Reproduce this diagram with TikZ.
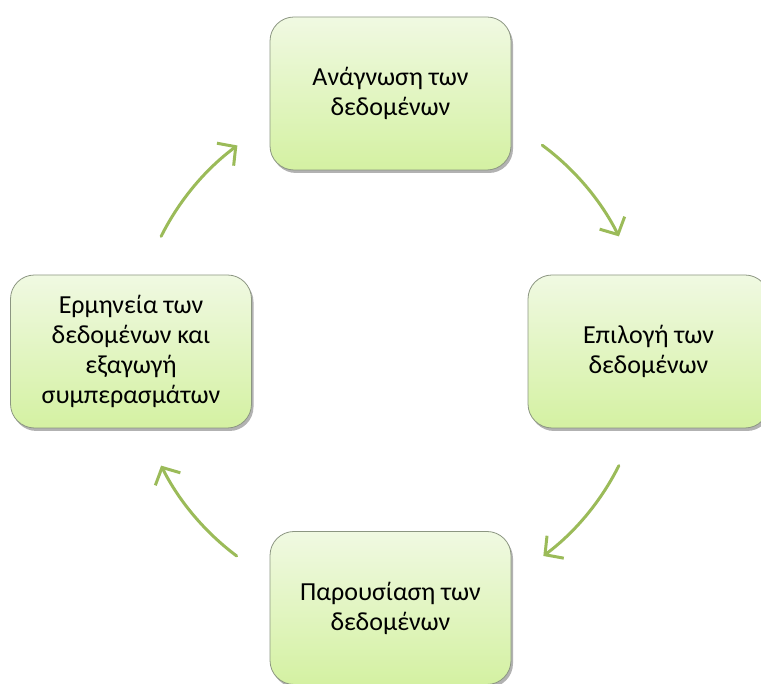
\documentclass[tikz,border=0pt]{standalone}
\usepackage{fontspec}
\setmainfont{Carlito}
\usetikzlibrary{arrows.meta,shadows,calc}
\definecolor{boxtop}{RGB}{240,249,226}
\definecolor{boxbot}{RGB}{212,241,162}
\definecolor{boxline}{RGB}{140,150,130}
\definecolor{arrowgreen}{RGB}{155,187,89}
\tikzset{
  stepbox/.style={draw=boxline, line width=0.8pt, rounded corners=24pt,
    top color=boxtop, bottom color=boxbot,
    minimum width=241pt, minimum height=153pt, align=center,
    font=\fontsize{26}{30}\selectfont, text=black, inner sep=0pt,
    drop shadow={shadow xshift=2pt, shadow yshift=-3pt, opacity=0.3, fill=black}},
  cyclearrow/.style={draw=arrowgreen, line width=3pt, line cap=round,
    -{Straight Barb[length=13pt,width=28pt,line width=3pt]}}
}
\begin{document}
\begin{tikzpicture}[x=1pt,y=1pt]
\useasboundingbox (0,0) rectangle (761,684);
\clip (0,0) rectangle (761,684);
\node[stepbox] (read) at (390.5,590.5) {Ανάγνωση των\\δεδομένων};
\node[stepbox] (select) at (648.5,332.5) {Επιλογή των\\δεδομένων};
\node[stepbox] (present) at (390.5,76) {Παρουσίαση των\\δεδομένων};
\node[stepbox] (interp) at (131,332.5) {Ερμηνεία των\\δεδομένων και\\εξαγωγή\\συμπερασμάτων};
\coordinate (c) at (390,333);
\coordinate (a1) at ($(c)+(53.5:256)$);
\coordinate (a2) at ($(c)+(-26.6:256)$);
\coordinate (a3) at ($(c)+(-126.8:256)$);
\coordinate (a4) at ($(c)+(153.4:256)$);
\draw[cyclearrow] (a1) arc[start angle=53.5, end angle=26.6, radius=256];
\draw[cyclearrow] (a2) arc[start angle=-26.6, end angle=-53.2, radius=256];
\draw[cyclearrow] (a3) arc[start angle=-126.8, end angle=-153.4, radius=256];
\draw[cyclearrow] (a4) arc[start angle=153.4, end angle=126.6, radius=256];
\end{tikzpicture}
\end{document}
